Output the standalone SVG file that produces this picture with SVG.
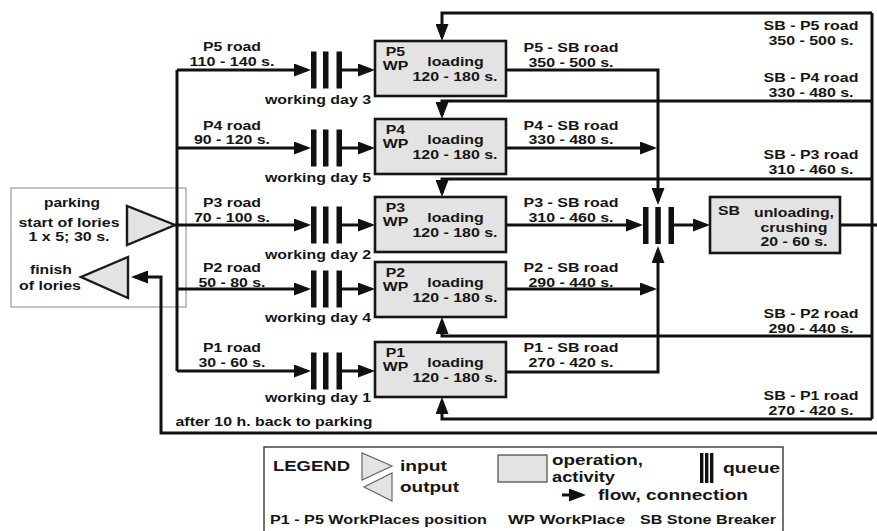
<svg xmlns="http://www.w3.org/2000/svg" width="877" height="531" viewBox="0 0 877 531">
<style>
.t{font-family:"Liberation Sans",Arial,sans-serif;font-weight:bold;font-size:12.6px;fill:#151515}
.lg{font-size:14px}
.c{text-anchor:middle}
.box{fill:#e3e3e3;stroke:#151515;stroke-width:2.6}
.tri{fill:#e3e3e3;stroke:#1a1a1a;stroke-width:2.4;stroke-linejoin:miter}
.ln{fill:none;stroke:#111;stroke-width:3}
.ar{marker-end:url(#ah)}
.bar{fill:#111}
</style>
<defs>
<marker id="ah" markerUnits="userSpaceOnUse" markerWidth="17" markerHeight="13" refX="13" refY="6.5" orient="auto">
<path d="M0,0 L17,6.5 L0,13 Z" fill="#111"/>
</marker>
</defs>
<rect width="877" height="531" fill="#fff"/>

<g id="parking">
<rect x="11" y="188" width="175" height="119" fill="none" stroke="#9a9a9a" stroke-width="1.2"/>
<text class="t c" x="72" y="206.5" textLength="56" lengthAdjust="spacingAndGlyphs">parking</text>
<text class="t c" x="69" y="226.5" textLength="101" lengthAdjust="spacingAndGlyphs">start of lories</text>
<text class="t c" x="69" y="241" textLength="81" lengthAdjust="spacingAndGlyphs">1 x 5; 30 s.</text>
<text class="t c" x="51" y="274" textLength="42" lengthAdjust="spacingAndGlyphs">finish</text>
<text class="t c" x="50" y="290" textLength="62" lengthAdjust="spacingAndGlyphs">of lories</text>
</g>
<g id="start"><polygon class="tri" points="127,206 127,245 175,225"/></g>
<g id="finish"><polygon class="tri" points="128,257 128,298 81,277"/></g>

<g id="connectors">
<path class="ln" d="M177,70 V371"/>
<path class="ln ar" d="M177,70 H307"/>
<path class="ln ar" d="M177,148 H307"/>
<path class="ln ar" d="M175,225 H307"/>
<path class="ln ar" d="M177,289 H307"/>
<path class="ln ar" d="M177,371 H307"/>
<path class="ln ar" d="M342,70 H371"/>
<path class="ln ar" d="M342,148 H371"/>
<path class="ln ar" d="M342,225 H371"/>
<path class="ln ar" d="M342,289 H371"/>
<path class="ln ar" d="M342,371 H371"/>
<path class="ln ar" d="M506,70 H658 V201"/>
<path class="ln ar" d="M506,148 H653"/>
<path class="ln ar" d="M506,225 H639"/>
<path class="ln ar" d="M506,289 H653"/>
<path class="ln ar" d="M506,372 H658 V250"/>
<path class="ln ar" d="M674,225 H706"/>
<path class="ln" d="M840,225 H877"/>
<path class="ln" d="M872,13 V419"/>
<path class="ln ar" d="M872,13 H442 V37"/>
<path class="ln ar" d="M872,101 H442 V115"/>
<path class="ln ar" d="M872,179 H442 V193"/>
<path class="ln ar" d="M872,336 H442 V321"/>
<path class="ln ar" d="M872,419 H442 V401"/>
<path class="ln ar" d="M877,433 H161 V277 H135"/>

<text class="t c" x="232" y="51" textLength="58" lengthAdjust="spacingAndGlyphs">P5 road</text>
<text class="t c" x="232" y="66" textLength="85" lengthAdjust="spacingAndGlyphs">110 - 140 s.</text>
<text class="t c" x="232" y="129.5" textLength="58" lengthAdjust="spacingAndGlyphs">P4 road</text>
<text class="t c" x="232" y="144" textLength="76" lengthAdjust="spacingAndGlyphs">90 - 120 s.</text>
<text class="t c" x="232" y="207" textLength="58" lengthAdjust="spacingAndGlyphs">P3 road</text>
<text class="t c" x="232" y="222" textLength="76" lengthAdjust="spacingAndGlyphs">70 - 100 s.</text>
<text class="t c" x="232" y="271.5" textLength="58" lengthAdjust="spacingAndGlyphs">P2 road</text>
<text class="t c" x="232" y="286.5" textLength="67" lengthAdjust="spacingAndGlyphs">50 - 80 s.</text>
<text class="t c" x="232" y="351.5" textLength="58" lengthAdjust="spacingAndGlyphs">P1 road</text>
<text class="t c" x="232" y="366.5" textLength="67" lengthAdjust="spacingAndGlyphs">30 - 60 s.</text>
<text class="t c" x="318" y="104" textLength="106" lengthAdjust="spacingAndGlyphs">working day 3</text>
<text class="t c" x="318" y="182" textLength="106" lengthAdjust="spacingAndGlyphs">working day 5</text>
<text class="t c" x="318" y="259" textLength="106" lengthAdjust="spacingAndGlyphs">working day 2</text>
<text class="t c" x="318" y="321.5" textLength="106" lengthAdjust="spacingAndGlyphs">working day 4</text>
<text class="t c" x="318" y="401.5" textLength="106" lengthAdjust="spacingAndGlyphs">working day 1</text>
<text class="t c" x="571" y="51.5" textLength="95" lengthAdjust="spacingAndGlyphs">P5 - SB road</text>
<text class="t c" x="571" y="66.5" textLength="85" lengthAdjust="spacingAndGlyphs">350 - 500 s.</text>
<text class="t c" x="571" y="130" textLength="95" lengthAdjust="spacingAndGlyphs">P4 - SB road</text>
<text class="t c" x="571" y="144" textLength="85" lengthAdjust="spacingAndGlyphs">330 - 480 s.</text>
<text class="t c" x="571" y="207" textLength="95" lengthAdjust="spacingAndGlyphs">P3 - SB road</text>
<text class="t c" x="571" y="222" textLength="85" lengthAdjust="spacingAndGlyphs">310 - 460 s.</text>
<text class="t c" x="571" y="271.5" textLength="95" lengthAdjust="spacingAndGlyphs">P2 - SB road</text>
<text class="t c" x="571" y="286.5" textLength="85" lengthAdjust="spacingAndGlyphs">290 - 440 s.</text>
<text class="t c" x="571" y="351.5" textLength="95" lengthAdjust="spacingAndGlyphs">P1 - SB road</text>
<text class="t c" x="571" y="366.5" textLength="85" lengthAdjust="spacingAndGlyphs">270 - 420 s.</text>
<text class="t c" x="811" y="29.5" textLength="95" lengthAdjust="spacingAndGlyphs">SB - P5 road</text>
<text class="t c" x="811" y="44.5" textLength="85" lengthAdjust="spacingAndGlyphs">350 - 500 s.</text>
<text class="t c" x="811" y="81.5" textLength="95" lengthAdjust="spacingAndGlyphs">SB - P4 road</text>
<text class="t c" x="811" y="96.5" textLength="85" lengthAdjust="spacingAndGlyphs">330 - 480 s.</text>
<text class="t c" x="811" y="158.5" textLength="95" lengthAdjust="spacingAndGlyphs">SB - P3 road</text>
<text class="t c" x="811" y="174" textLength="85" lengthAdjust="spacingAndGlyphs">310 - 460 s.</text>
<text class="t c" x="811" y="317.5" textLength="95" lengthAdjust="spacingAndGlyphs">SB - P2 road</text>
<text class="t c" x="811" y="332.5" textLength="85" lengthAdjust="spacingAndGlyphs">290 - 440 s.</text>
<text class="t c" x="811" y="400" textLength="95" lengthAdjust="spacingAndGlyphs">SB - P1 road</text>
<text class="t c" x="811" y="414.5" textLength="85" lengthAdjust="spacingAndGlyphs">270 - 420 s.</text>
<text class="t c" x="274" y="425.5" textLength="197" lengthAdjust="spacingAndGlyphs">after 10 h. back to parking</text>
</g>

<g id="q5" class="bar"><rect x="311" y="51.5" width="5.5" height="37"/><rect x="323" y="51.5" width="5.5" height="37"/><rect x="336.5" y="51.5" width="5.5" height="37"/></g>
<g id="q4" class="bar"><rect x="311" y="129.5" width="5.5" height="37"/><rect x="323" y="129.5" width="5.5" height="37"/><rect x="336.5" y="129.5" width="5.5" height="37"/></g>
<g id="q3" class="bar"><rect x="311" y="206.5" width="5.5" height="37"/><rect x="323" y="206.5" width="5.5" height="37"/><rect x="336.5" y="206.5" width="5.5" height="37"/></g>
<g id="q2" class="bar"><rect x="311" y="270.5" width="5.5" height="37"/><rect x="323" y="270.5" width="5.5" height="37"/><rect x="336.5" y="270.5" width="5.5" height="37"/></g>
<g id="q1" class="bar"><rect x="311" y="352.5" width="5.5" height="37"/><rect x="323" y="352.5" width="5.5" height="37"/><rect x="336.5" y="352.5" width="5.5" height="37"/></g>

<g id="wp5"><rect class="box" x="375" y="41" width="131" height="55"/>
<text class="t c" x="395.5" y="56" textLength="19.4" lengthAdjust="spacingAndGlyphs">P5</text>
<text class="t c" x="395.5" y="70" textLength="25.6" lengthAdjust="spacingAndGlyphs">WP</text>
<text class="t c" x="455.5" y="66" textLength="56.5" lengthAdjust="spacingAndGlyphs">loading</text>
<text class="t c" x="455" y="81" textLength="85" lengthAdjust="spacingAndGlyphs">120 - 180 s.</text></g>
<g id="wp4"><rect class="box" x="375" y="119" width="131" height="55"/>
<text class="t c" x="395.5" y="134" textLength="19.4" lengthAdjust="spacingAndGlyphs">P4</text>
<text class="t c" x="395.5" y="148" textLength="25.6" lengthAdjust="spacingAndGlyphs">WP</text>
<text class="t c" x="455.5" y="144" textLength="56.5" lengthAdjust="spacingAndGlyphs">loading</text>
<text class="t c" x="455" y="159" textLength="85" lengthAdjust="spacingAndGlyphs">120 - 180 s.</text></g>
<g id="wp3"><rect class="box" x="375" y="197" width="131" height="55"/>
<text class="t c" x="395.5" y="212" textLength="19.4" lengthAdjust="spacingAndGlyphs">P3</text>
<text class="t c" x="395.5" y="226" textLength="25.6" lengthAdjust="spacingAndGlyphs">WP</text>
<text class="t c" x="455.5" y="222" textLength="56.5" lengthAdjust="spacingAndGlyphs">loading</text>
<text class="t c" x="455" y="237" textLength="85" lengthAdjust="spacingAndGlyphs">120 - 180 s.</text></g>
<g id="wp2"><rect class="box" x="375" y="262" width="131" height="55"/>
<text class="t c" x="395.5" y="277" textLength="19.4" lengthAdjust="spacingAndGlyphs">P2</text>
<text class="t c" x="395.5" y="291" textLength="25.6" lengthAdjust="spacingAndGlyphs">WP</text>
<text class="t c" x="455.5" y="287" textLength="56.5" lengthAdjust="spacingAndGlyphs">loading</text>
<text class="t c" x="455" y="302" textLength="85" lengthAdjust="spacingAndGlyphs">120 - 180 s.</text></g>
<g id="wp1"><rect class="box" x="375" y="342" width="131" height="55"/>
<text class="t c" x="395.5" y="357" textLength="19.4" lengthAdjust="spacingAndGlyphs">P1</text>
<text class="t c" x="395.5" y="371" textLength="25.6" lengthAdjust="spacingAndGlyphs">WP</text>
<text class="t c" x="455.5" y="367" textLength="56.5" lengthAdjust="spacingAndGlyphs">loading</text>
<text class="t c" x="455" y="382" textLength="85" lengthAdjust="spacingAndGlyphs">120 - 180 s.</text></g>

<g id="sbq" class="bar"><rect x="643" y="207" width="5.5" height="37"/><rect x="655.3" y="207" width="5.5" height="37"/><rect x="668.5" y="207" width="5.5" height="37"/></g>

<g id="sb"><rect class="box" x="710" y="197" width="130" height="56"/>
<text class="t c" x="729" y="215" textLength="22" lengthAdjust="spacingAndGlyphs">SB</text>
<text class="t c" x="794" y="216.5" textLength="80" lengthAdjust="spacingAndGlyphs">unloading,</text>
<text class="t c" x="794" y="231.5" textLength="67" lengthAdjust="spacingAndGlyphs">crushing</text>
<text class="t c" x="794" y="245.5" textLength="67" lengthAdjust="spacingAndGlyphs">20 - 60 s.</text></g>

<g id="legend">
<rect x="264" y="447" width="519" height="92" fill="none" stroke="#444" stroke-width="1.5"/>
<text class="t lg" x="273" y="470.5" textLength="77" lengthAdjust="spacingAndGlyphs">LEGEND</text>
<polygon points="362,453 362,480 392,466" fill="#e3e3e3" stroke="#666" stroke-width="1.2"/>
<polygon points="392,473 392,501 364,487" fill="#e3e3e3" stroke="#666" stroke-width="1.2"/>
<text class="t lg" x="400" y="470.5" textLength="47" lengthAdjust="spacingAndGlyphs">input</text>
<text class="t lg" x="400" y="491.5" textLength="59" lengthAdjust="spacingAndGlyphs">output</text>
<rect x="498" y="455" width="49" height="27" fill="#e3e3e3" stroke="#444" stroke-width="1.2"/>
<text class="t lg" x="552" y="465" textLength="91" lengthAdjust="spacingAndGlyphs">operation,</text>
<text class="t lg" x="552" y="481.5" textLength="63" lengthAdjust="spacingAndGlyphs">activity</text>
<rect class="bar" x="700" y="453" width="3.4" height="30"/><rect class="bar" x="705" y="453" width="3.4" height="30"/><rect class="bar" x="710" y="453" width="3.4" height="30"/>
<text class="t lg" x="723" y="473" textLength="57" lengthAdjust="spacingAndGlyphs">queue</text>
<path class="ln ar" d="M562,495 H582" stroke-width="2.5"/>
<text class="t lg" x="598" y="500" textLength="150" lengthAdjust="spacingAndGlyphs">flow, connection</text>
<text class="t" x="270" y="523.5" textLength="217" lengthAdjust="spacingAndGlyphs">P1 - P5 WorkPlaces position</text>
<text class="t" x="508" y="523.5" textLength="117" lengthAdjust="spacingAndGlyphs">WP WorkPlace</text>
<text class="t" x="640" y="523.5" textLength="136" lengthAdjust="spacingAndGlyphs">SB Stone Breaker</text>
</g>
</svg>
